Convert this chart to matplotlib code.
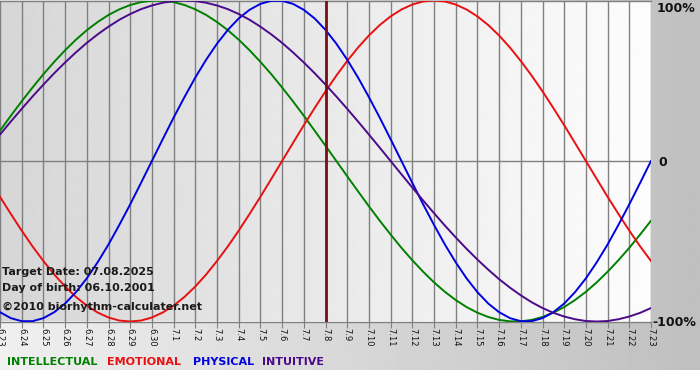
import matplotlib
matplotlib.use("Agg")
import matplotlib.pyplot as plt
import numpy as np

# day labels, 6.23 .. 7.23
days = ['6.23', '6.24', '6.25', '6.26', '6.27', '6.28', '6.29', '6.30',
        '7.1', '7.2', '7.3', '7.4', '7.5', '7.6', '7.7', '7.8', '7.9',
        '7.10', '7.11', '7.12', '7.13', '7.14', '7.15', '7.16', '7.17',
        '7.18', '7.19', '7.20', '7.21', '7.22', '7.23']
target_day = '7.8'

# values (-1 .. 1), every half day from 6.23 to 7.23
intellectual = [0.189, 0.282, 0.372, 0.458, 0.541, 0.618, 0.690, 0.756, 0.815,
                0.866, 0.910, 0.945, 0.972, 0.990, 0.999, 0.999, 0.990, 0.972,
                0.945, 0.910, 0.866, 0.815, 0.756, 0.690, 0.618, 0.541, 0.458,
                0.372, 0.282, 0.189, 0.095, 0.000, -0.095, -0.189, -0.282,
                -0.372, -0.458, -0.541, -0.618, -0.690, -0.756, -0.815, -0.866,
                -0.910, -0.945, -0.972, -0.990, -0.999, -0.999, -0.990, -0.972,
                -0.945, -0.910, -0.866, -0.815, -0.756, -0.690, -0.618, -0.541,
                -0.458, -0.372]
emotional = [-0.223, -0.330, -0.434, -0.532, -0.623, -0.707, -0.782, -0.847,
             -0.901, -0.944, -0.975, -0.994, -1.000, -0.994, -0.975, -0.944,
             -0.901, -0.847, -0.782, -0.707, -0.623, -0.532, -0.434, -0.330,
             -0.223, -0.112, 0.000, 0.112, 0.223, 0.330, 0.434, 0.532, 0.623,
             0.707, 0.782, 0.847, 0.901, 0.944, 0.975, 0.994, 1.000, 0.994,
             0.975, 0.944, 0.901, 0.847, 0.782, 0.707, 0.623, 0.532, 0.434,
             0.330, 0.223, 0.112, 0.000, -0.112, -0.223, -0.330, -0.434,
             -0.532, -0.623]
physical = [-0.942, -0.979, -0.998, -0.998, -0.979, -0.942, -0.888, -0.817,
            -0.731, -0.631, -0.520, -0.398, -0.270, -0.136, 0.000, 0.136,
            0.270, 0.398, 0.520, 0.631, 0.731, 0.817, 0.888, 0.942, 0.979,
            0.998, 0.998, 0.979, 0.942, 0.888, 0.817, 0.731, 0.631, 0.520,
            0.398, 0.270, 0.136, 0.000, -0.136, -0.270, -0.398, -0.520, -0.631,
            -0.731, -0.817, -0.888, -0.942, -0.979, -0.998, -0.998, -0.979,
            -0.942, -0.888, -0.817, -0.731, -0.631, -0.520, -0.398, -0.270,
            -0.136, 0.000]
intuitive = [0.165, 0.246, 0.325, 0.402, 0.476, 0.547, 0.614, 0.677, 0.736,
             0.789, 0.837, 0.880, 0.916, 0.946, 0.969, 0.986, 0.997, 1.000,
             0.997, 0.986, 0.969, 0.946, 0.916, 0.880, 0.837, 0.789, 0.736,
             0.677, 0.614, 0.547, 0.476, 0.402, 0.325, 0.246, 0.165, 0.083,
             0.000, -0.083, -0.165, -0.246, -0.325, -0.402, -0.476, -0.547,
             -0.614, -0.677, -0.736, -0.789, -0.837, -0.880, -0.916, -0.946,
             -0.969, -0.986, -0.997, -1.000, -0.997, -0.986, -0.969, -0.946,
             -0.916]

names = ['INTELLECTUAL', 'EMOTIONAL', 'PHYSICAL', 'INTUITIVE']
colors = ['#008000', '#e81010', '#0000e0', '#4b0a8a']
W, H = 700, 380

fig = plt.figure(figsize=(W / 100, H / 100), dpi=100)
fig.patch.set_facecolor('white')

# outer background: light on the left, grey on the right
bg = fig.add_axes([0, 10 / H, 1, 370 / H])
bg.imshow(np.linspace(0.94, 0.75, 256)[None, :], cmap='gray', vmin=0, vmax=1,
          aspect='auto', extent=[0, 1, 0, 1])
bg.axis('off')

x = np.arange(len(days))
xh = np.arange(len(physical)) / 2.0   # half-day steps
ax = fig.add_axes([0, 1 - 321.5 / H, 651 / W, 321 / H])
ax.imshow(np.linspace(0.84, 0.99, 256)[None, :], cmap='gray', vmin=0, vmax=1,
          aspect='auto', extent=[0, 30, -1, 1], zorder=0)
ax.set_xlim(0, 30)
ax.set_ylim(-1, 1)

for xi in x:
    ax.axvline(xi, color='#808080', lw=1, zorder=1)
ax.axhline(0, color='#808080', lw=1, zorder=1)

for vals, c in zip([intellectual, emotional, physical, intuitive], colors):
    ax.plot(xh, vals, color=c, lw=1.4, zorder=3)

ax.axvline(days.index(target_day), color='#7a1010', lw=2, zorder=4)

ax.set_xticks(x)
ax.set_xticklabels(days, rotation=270, fontsize=6, color='#111111')
ax.tick_params(axis='x', length=4, color='#808080', pad=1)
ax.set_yticks([])
for s in ['left', 'right']:
    ax.spines[s].set_visible(False)
for s in ['top', 'bottom']:
    ax.spines[s].set_color('#808080')
    ax.spines[s].set_linewidth(1)

# right-hand labels
fig.text(657 / W, 1 - 8 / H, '100%', fontsize=9, fontweight='bold',
         va='center', color='#111111')
fig.text(658 / W, 1 - 162 / H, '0', fontsize=9, fontweight='bold',
         va='center', color='#111111')
fig.text(652 / W, 1 - 322 / H, '-100%', fontsize=9, fontweight='bold',
         va='center', color='#111111')

# overlay info
info = ['Target Date: 07.08.2025', 'Day of birth: 06.10.2001',
        '\u00a92010 biorhythm-calculater.net']
for txt, yy in zip(info, [272, 288, 307]):
    fig.text(2 / W, 1 - yy / H, txt, fontsize=8, fontweight='bold',
             va='center', color='#1a1a1a')

# legend
for name, c, xx in zip(names, colors, [7, 107, 193, 262]):
    fig.text(xx / W, 1 - 362 / H, name, fontsize=8, fontweight='bold',
             color=c, va='center')

fig.savefig('out.png', dpi=100)
